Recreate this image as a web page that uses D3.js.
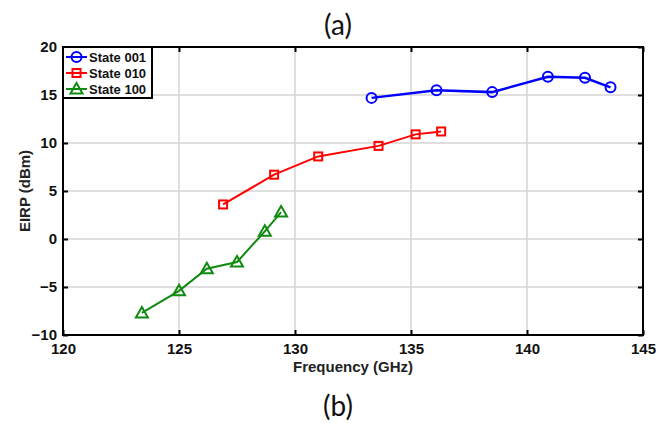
<!DOCTYPE html>
<html lang="en">
<head>
  <meta charset="UTF-8">
  <title>EIRP vs Frequency</title>
  <script src="https://d3js.org/d3.v7.min.js"></script>
  <style>
    body { margin: 0; background: #fff; }
    svg { display: block; }
    .tick-label { font-family: "Liberation Sans", Arial, sans-serif; font-weight: bold; font-size: 15px; fill: #111; }
    .axis-title { font-family: "Liberation Sans", Arial, sans-serif; font-weight: bold; font-size: 15px; fill: #222; }
    .legend-label { font-family: "Liberation Sans", Arial, sans-serif; font-weight: bold; font-size: 13px; fill: #111; }
    .caption { font-family: "Lato", "DejaVu Sans", sans-serif; font-weight: 400; font-size: 28px; fill: #111; }
  </style>
</head>
<body>
<svg width="671" height="423"></svg>
<script>
// Data
const freq001 = [133.3, 136.1, 138.5, 140.9, 142.5, 143.6];
const eirp001 = [14.7, 15.5, 15.3, 16.9, 16.8, 15.8];

const freq010 = [126.9, 129.1, 131.0, 133.6, 135.2, 136.3];
const eirp010 = [3.6, 6.7, 8.6, 9.7, 10.9, 11.2];

const freq100 = [123.4, 125.0, 126.2, 127.5, 128.7, 129.4];
const eirp100 = [-7.7, -5.4, -3.1, -2.4, 0.8, 2.8];

const xTicks = [120, 125, 130, 135, 140, 145];
const yTicks = [-10, -5, 0, 5, 10, 15, 20];

const seriesNames = ["State 001", "State 010", "State 100"];

const series = [
  { name: seriesNames[0], color: "#0000ff", marker: "circle", xs: freq001, ys: eirp001, width: 2.5 },
  { name: seriesNames[1], color: "#ff0000", marker: "square", xs: freq010, ys: eirp010, width: 2 },
  { name: seriesNames[2], color: "#108a10", marker: "triangle", xs: freq100, ys: eirp100, width: 2 }
];

const plot = { left: 63, right: 643, top: 47, bottom: 335 };

const svg = d3.select("svg");

const x = d3.scaleLinear().domain([120, 145]).range([plot.left, plot.right]);
const y = d3.scaleLinear().domain([-10, 20]).range([plot.bottom, plot.top]);

// grid
const grid = svg.append("g");
grid.selectAll(".vgrid")
  .data(xTicks.slice(1, -1))
  .join("line")
  .attr("x1", d => x(d)).attr("x2", d => x(d))
  .attr("y1", plot.top).attr("y2", plot.bottom)
  .attr("stroke", "#d4d4d4").attr("stroke-width", 1.5);
grid.selectAll(".hgrid")
  .data(yTicks.slice(1, -1))
  .join("line")
  .attr("x1", plot.left).attr("x2", plot.right)
  .attr("y1", d => y(d)).attr("y2", d => y(d))
  .attr("stroke", "#d4d4d4").attr("stroke-width", 1.5);

// axes (ticks inward on all four sides)
const tickLen = 5;
const axisG = svg.append("g");
axisG.append("g")
  .attr("transform", `translate(0,${plot.bottom})`)
  .call(d3.axisBottom(x).tickValues(xTicks).tickSize(-tickLen).tickPadding(8).tickSizeOuter(0))
  .call(g => g.select(".domain").remove());
axisG.append("g")
  .attr("transform", `translate(0,${plot.top})`)
  .call(d3.axisTop(x).tickValues(xTicks).tickSize(-tickLen).tickFormat("").tickSizeOuter(0))
  .call(g => g.select(".domain").remove());
axisG.append("g")
  .attr("transform", `translate(${plot.left},0)`)
  .call(d3.axisLeft(y).tickValues(yTicks).tickSize(-tickLen).tickPadding(6).tickSizeOuter(0))
  .call(g => g.select(".domain").remove());
axisG.append("g")
  .attr("transform", `translate(${plot.right},0)`)
  .call(d3.axisRight(y).tickValues(yTicks).tickSize(-tickLen).tickFormat("").tickSizeOuter(0))
  .call(g => g.select(".domain").remove());

axisG.selectAll(".tick line").attr("stroke", "#000").attr("stroke-width", 2);
axisG.selectAll(".tick text").attr("class", "tick-label").attr("fill", null);

// frame
svg.append("rect")
  .attr("x", plot.left).attr("y", plot.top)
  .attr("width", plot.right - plot.left).attr("height", plot.bottom - plot.top)
  .attr("fill", "none").attr("stroke", "#000").attr("stroke-width", 2);

// markers
function drawMarker(g, type, cx, cy, color) {
  if (type === "circle") {
    g.append("circle").attr("cx", cx).attr("cy", cy).attr("r", 5)
      .attr("fill", "none").attr("stroke", color).attr("stroke-width", 2);
  } else if (type === "square") {
    g.append("rect").attr("x", cx - 4).attr("y", cy - 4).attr("width", 8).attr("height", 8)
      .attr("fill", "none").attr("stroke", color).attr("stroke-width", 2);
  } else {
    const s = 6;
    g.append("path")
      .attr("d", `M${cx},${cy - s} L${cx + s},${cy + s * 0.75} L${cx - s},${cy + s * 0.75} Z`)
      .attr("fill", "none").attr("stroke", color).attr("stroke-width", 2).attr("stroke-linejoin", "miter");
  }
}

const line = d3.line().x(d => x(d[0])).y(d => y(d[1]));

series.forEach(s => {
  const pts = s.xs.map((f, i) => [f, s.ys[i]]);
  const g = svg.append("g");
  g.append("path")
    .attr("d", line(pts))
    .attr("fill", "none").attr("stroke", s.color).attr("stroke-width", s.width);
  pts.forEach(p => drawMarker(g, s.marker, x(p[0]), y(p[1]), s.color));
});

// legend
const legend = svg.append("g");
legend.append("rect")
  .attr("x", plot.left).attr("y", plot.top)
  .attr("width", 89).attr("height", 51)
  .attr("fill", "#fff").attr("stroke", "#000").attr("stroke-width", 2);
series.forEach((s, i) => {
  const ly = plot.top + 10 + i * 16;
  legend.append("line")
    .attr("x1", plot.left + 3).attr("x2", plot.left + 24)
    .attr("y1", ly).attr("y2", ly)
    .attr("stroke", s.color).attr("stroke-width", 2);
  drawMarker(legend, s.marker, plot.left + 13.5, ly, s.color);
  legend.append("text")
    .attr("class", "legend-label")
    .attr("x", plot.left + 26).attr("y", ly + 4.5)
    .text(s.name);
});

// axis titles
svg.append("text")
  .attr("class", "axis-title")
  .attr("x", (plot.left + plot.right) / 2).attr("y", 372)
  .attr("text-anchor", "middle")
  .text("Frequency (GHz)");
svg.append("text")
  .attr("class", "axis-title")
  .attr("transform", `translate(30,${(plot.top + plot.bottom) / 2}) rotate(-90)`)
  .attr("text-anchor", "middle")
  .text("EIRP (dBm)");

// captions
svg.append("text").attr("class", "caption")
  .attr("x", 338).attr("y", 35).attr("text-anchor", "middle").text("(a)");
svg.append("text").attr("class", "caption")
  .attr("x", 338).attr("y", 416).attr("text-anchor", "middle").text("(b)");
</script>
</body>
</html>
